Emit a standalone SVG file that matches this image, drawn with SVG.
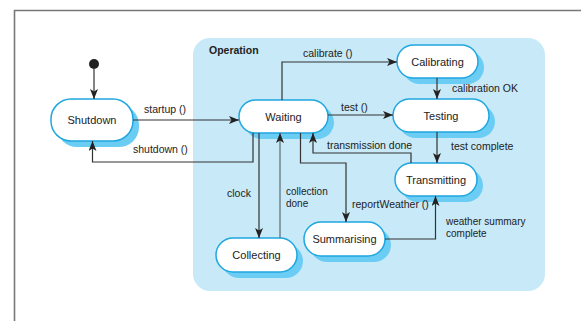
<svg xmlns="http://www.w3.org/2000/svg" width="581" height="321" viewBox="0 0 581 321">
<defs>
<marker id="ah" viewBox="0 0 10 8" refX="10" refY="4" markerWidth="10" markerHeight="8" markerUnits="userSpaceOnUse" orient="auto">
<path d="M0,0 L10,4 L0,8 L2.5,4 Z" fill="#222"/>
</marker>
<style>
.lbl{font-family:"Liberation Sans",Arial,sans-serif;font-size:10.5px;fill:#222}
.l2{font-size:10px}
.nt{font-family:"Liberation Sans",Arial,sans-serif;font-size:11px;fill:#222;text-anchor:middle}
.sh{fill:#6ccdf4}
.nd{fill:#fff;stroke:#1fa7e0;stroke-width:1.5}
.cn{fill:none;stroke:#333;stroke-width:1.2;marker-end:url(#ah)}
</style>
</defs>
<rect width="581" height="321" fill="#fff"/>
<path d="M14.5,321 V10.5 H581" fill="none" stroke="#777" stroke-width="1.6"/>
<g id="operation">
<rect x="193" y="38" width="352" height="253" rx="17" fill="#c7e9f8"/>
<text x="209" y="54" class="lbl" style="font-weight:bold">Operation</text>
</g>
<g id="initial"><circle cx="94" cy="64" r="5" fill="#222"/></g>
<g id="shutdown">
<rect class="sh" x="57" y="105" width="82" height="42" rx="20"/>
<rect class="nd" x="51" y="99" width="82" height="42" rx="20"/>
<text class="nt" x="92" y="124">Shutdown</text>
</g>
<g id="waiting">
<rect class="sh" x="245" y="106" width="89" height="33" rx="16.5"/>
<rect class="nd" x="239" y="100" width="89" height="33" rx="16.5"/>
<text class="nt" x="283.5" y="120.5">Waiting</text>
</g>
<g id="calibrating">
<rect class="sh" x="403" y="51" width="81" height="33" rx="16.5"/>
<rect class="nd" x="397" y="45" width="81" height="33" rx="16.5"/>
<text class="nt" x="437.5" y="65.5">Calibrating</text>
</g>
<g id="testing">
<rect class="sh" x="399" y="105" width="96" height="33" rx="16.5"/>
<rect class="nd" x="393" y="99" width="96" height="33" rx="16.5"/>
<text class="nt" x="441" y="119.5">Testing</text>
</g>
<g id="transmitting">
<rect class="sh" x="401" y="169" width="82" height="33" rx="16.5"/>
<rect class="nd" x="395" y="163" width="82" height="33" rx="16.5"/>
<text class="nt" x="436" y="183.5">Transmitting</text>
</g>
<g id="summarising">
<rect class="sh" x="310" y="228" width="81" height="34" rx="17"/>
<rect class="nd" x="304" y="222" width="81" height="34" rx="17"/>
<text class="nt" x="344.5" y="243">Summarising</text>
</g>
<g id="collecting">
<rect class="sh" x="222" y="244" width="81" height="34" rx="17"/>
<rect class="nd" x="216" y="238" width="81" height="34" rx="17"/>
<text class="nt" x="256.5" y="259">Collecting</text>
</g>
<g id="connectors">
<path class="cn" d="M94,69 V99"/>
<path class="cn" d="M133,120 H239"/>
<path class="cn" d="M253,133 V162 H92.5 V141"/>
<path class="cn" d="M282,100 V62 H397"/>
<path class="cn" d="M437,78 V99"/>
<path class="cn" d="M328,115 H393"/>
<path class="cn" d="M437,132 V163"/>
<path class="cn" d="M411,163 V153 H313 V133"/>
<path class="cn" d="M300.5,133 V163 H346 V222"/>
<path class="cn" d="M385,239 H435.5 V196"/>
<path class="cn" d="M259,133 V238"/>
<path class="cn" d="M280,238 V133" style="stroke:#5d6a70"/>
</g>
<g id="labels">
<text class="lbl" x="144" y="113">startup ()</text>
<text class="lbl" x="133" y="153">shutdown ()</text>
<text class="lbl" x="303" y="57">calibrate ()</text>
<text class="lbl" x="452" y="92">calibration OK</text>
<text class="lbl" x="341" y="111">test ()</text>
<text class="lbl" x="451" y="150">test complete</text>
<text class="lbl" x="327" y="149">transmission done</text>
<text class="lbl" x="352" y="208">reportWeather ()</text>
<text class="lbl l2" x="446" y="225">weather summary</text>
<text class="lbl l2" x="446" y="236.5">complete</text>
<text class="lbl" x="227" y="197">clock</text>
<text class="lbl l2" x="286" y="195">collection</text>
<text class="lbl l2" x="286" y="206.5">done</text>
</g>
</svg>
